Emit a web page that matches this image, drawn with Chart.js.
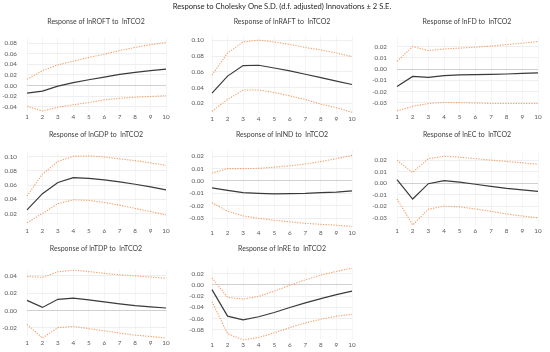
<!DOCTYPE html>
<html>
<head>
<meta charset="utf-8">
<script src="https://cdn.jsdelivr.net/npm/chart.js@4.4.1/dist/chart.umd.min.js"></script>
<style>
  body { margin: 0; background: #fff; }
  #wrap { position: relative; width: 550px; height: 352px; overflow: hidden; }
  canvas { position: absolute; }
</style>
</head>
<body>
<div id="wrap"><canvas id="titles" width="550" height="352" style="left:0;top:0;width:550px;height:352px"></canvas></div>
<script>
// periods of the impulse response
const periods = ['1', '2', '3', '4', '5', '6', '7', '8', '9', '10'];

// lnROFT
const roftResp = [-0.0144, -0.0106, -0.0011, 0.0056, 0.011, 0.016, 0.021, 0.025, 0.028, 0.031];
const roftUp = [0.0117, 0.028, 0.039, 0.046, 0.053, 0.059, 0.066, 0.072, 0.077, 0.081];
const roftLo = [-0.039, -0.048, -0.041, -0.036, -0.032, -0.027, -0.024, -0.022, -0.0206, -0.019];
// lnRAFT
const raftResp = [0.0331, 0.0547, 0.068, 0.0685, 0.065, 0.0614, 0.057, 0.0528, 0.0484, 0.044];
const raftUp = [0.056, 0.084, 0.098, 0.1004, 0.098, 0.095, 0.091, 0.088, 0.084, 0.0795];
const raftLo = [0.010, 0.025, 0.037, 0.037, 0.034, 0.0295, 0.025, 0.019, 0.0146, 0.0087];
// lnFD
const fdResp = [-0.0153, -0.0064, -0.0072, -0.0057, -0.0051, -0.0049, -0.0046, -0.0043, -0.0038, -0.0033];
const fdUp = [0.0069, 0.020, 0.0166, 0.0179, 0.0187, 0.0195, 0.0205, 0.0218, 0.0231, 0.0245];
const fdLo = [-0.037, -0.033, -0.0305, -0.0295, -0.0297, -0.030, -0.0305, -0.0305, -0.0305, -0.0305];
// lnGDP
const gdpResp = [0.0254, 0.048, 0.0637, 0.0703, 0.0695, 0.0674, 0.0645, 0.0612, 0.0575, 0.0534];
const gdpUp = [0.0447, 0.0753, 0.093, 0.1004, 0.1008, 0.0992, 0.0967, 0.0942, 0.091, 0.0876];
const gdpLo = [0.0072, 0.0204, 0.034, 0.0394, 0.0386, 0.0357, 0.032, 0.0274, 0.0229, 0.0184];
// lnIND
const indResp = [-0.0056, -0.0076, -0.0094, -0.0099, -0.0103, -0.0101, -0.0099, -0.0094, -0.0089, -0.0079];
const indUp = [0.0063, 0.0099, 0.0099, 0.0101, 0.0111, 0.0121, 0.0136, 0.0156, 0.0178, 0.0205];
const indLo = [-0.0173, -0.0243, -0.028, -0.030, -0.0315, -0.0328, -0.034, -0.0348, -0.0355, -0.0365];
// lnEC
const ecResp = [0.0032, -0.0138, -0.0004, 0.0022, 0.0009, -0.0009, -0.0027, -0.0045, -0.0058, -0.0071];
const ecUp = [0.020, 0.0094, 0.0215, 0.0236, 0.0228, 0.0215, 0.0202, 0.019, 0.0179, 0.0166];
const ecLo = [-0.0138, -0.0365, -0.0228, -0.020, -0.0207, -0.0225, -0.0246, -0.0269, -0.0287, -0.0303];
// lnTDP
const tdpResp = [0.0117, 0.0036, 0.013, 0.0144, 0.0124, 0.010, 0.0077, 0.0056, 0.0043, 0.0029];
const tdpUp = [0.0393, 0.0383, 0.0447, 0.0467, 0.045, 0.043, 0.0414, 0.040, 0.0387, 0.0373];
const tdpLo = [-0.016, -0.0318, -0.0197, -0.0183, -0.021, -0.0234, -0.026, -0.0284, -0.030, -0.0318];
// lnRE
const reResp = [-0.0086, -0.0558, -0.0624, -0.0569, -0.0492, -0.0404, -0.0322, -0.0245, -0.0174, -0.0113];
const reUp = [0.0123, -0.0222, -0.0255, -0.0206, -0.0113, -0.0009, 0.009, 0.0173, 0.0239, 0.0299];
const reLo = [-0.030, -0.0871, -0.098, -0.0937, -0.0855, -0.0761, -0.0679, -0.0613, -0.0558, -0.0525];

// y tick labels
const ticksRoft = [0.08, 0.06, 0.04, 0.02, 0, -0.02, -0.04];
const ticksHigh = [0.10, 0.08, 0.06, 0.04, 0.02];
const ticksSmall = [0.02, 0.01, 0, -0.01, -0.02, -0.03];
const ticksTdp = [0.04, 0.02, 0, -0.02];
const ticksRe = [0.02, 0, -0.02, -0.04, -0.06, -0.08];

const mainTitle = 'Response to Cholesky One S.D. (d.f. adjusted) Innovations \u00b1 2 S.E.';

// layout of the grid (pixels)
const cols = [
    { left: 0, width: 180, first: 27, last: 166, gap: 10, tx: 96 },
    { left: 180, width: 185, first: 212, last: 352, gap: 8, tx: 282 },
    { left: 365, width: 185, first: 397, last: 538, gap: 10, tx: 467 }
];
const rows = [
    { top: 30, bottom: 113, ty: 22 },
    { top: 144, bottom: 227, ty: 135 },
    { top: 262, bottom: 339, ty: 249 }
];

const panels = [
    { name: 'lnROFT', col: 0, row: 0, resp: roftResp, up: roftUp, lo: roftLo, ticks: ticksRoft, fit: [36, 108] },
    { name: 'lnRAFT', col: 1, row: 0, resp: raftResp, up: raftUp, lo: raftLo, ticks: ticksHigh, fit: [35, 102.7] },
    { name: 'lnFD', col: 2, row: 0, resp: fdResp, up: fdUp, lo: fdLo, ticks: ticksSmall, fit: [40, 103.7] },
    { name: 'lnGDP', col: 0, row: 1, resp: gdpResp, up: gdpUp, lo: gdpLo, ticks: ticksHigh, fit: [149.3, 214] },
    { name: 'lnIND', col: 1, row: 1, resp: indResp, up: indUp, lo: indLo, ticks: ticksSmall, fit: [150.7, 217.7] },
    { name: 'lnEC', col: 2, row: 1, resp: ecResp, up: ecUp, lo: ecLo, ticks: ticksSmall, fit: [153.7, 218.3] },
    { name: 'lnTDP', col: 0, row: 2, resp: tdpResp, up: tdpUp, lo: tdpLo, ticks: ticksTdp, fit: [269, 328.3] },
    { name: 'lnRE', col: 1, row: 2, resp: reResp, up: reUp, lo: reLo, ticks: ticksRe, fit: [268.3, 329] }
];

const wrap = document.getElementById('wrap');
const tctx = document.getElementById('titles').getContext('2d');

// centred text line at (x, y), drawn on the background canvas
function addText(txt, x, y, size, color) {
    tctx.font = size + 'px Lato, "Liberation Sans", sans-serif';
    tctx.fillStyle = color || '#404040';
    tctx.textAlign = 'center';
    tctx.textBaseline = 'middle';
    tctx.fillText(txt, x, y);
}

addText(mainTitle, 282, 7, 7.6, '#262626');

const PAD_TOP = 6;
const XAXIS_H = 12;

function makePanel(p) {
    const c = cols[p.col];
    const r = rows[p.row];
    const cv = document.createElement('canvas');
    const h = PAD_TOP + (r.bottom - r.top) + XAXIS_H;
    cv.width = c.width;
    cv.height = h;
    cv.style.left = c.left + 'px';
    cv.style.top = (r.top - PAD_TOP) + 'px';
    cv.style.width = c.width + 'px';
    cv.style.height = h + 'px';
    wrap.appendChild(cv);

    addText('Response of ' + p.name + ' to  lnTCO2', c.tx, r.ty, 7);

    // axis range so the first and last tick land where they are in the picture
    const vTop = p.ticks[0];
    const vBot = p.ticks[p.ticks.length - 1];
    const perPx = (vTop - vBot) / (p.fit[1] - p.fit[0]);
    const yMax = vTop + (p.fit[0] - r.top) * perPx;
    const yMin = vBot - (r.bottom - p.fit[1]) * perPx;

    const band = {
        borderColor: '#F1A26C',
        borderWidth: 1.1,
        borderDash: [1.3, 1.3],
        pointRadius: 0,
        tension: 0,
        fill: false
    };

    new Chart(cv, {
        type: 'line',
        data: {
            labels: periods,
            datasets: [
                Object.assign({ data: p.up }, band),
                Object.assign({ data: p.lo }, band),
                { data: p.resp, borderColor: '#3a3a3a', borderWidth: 1.2, pointRadius: 0, tension: 0, fill: false }
            ]
        },
        options: {
            responsive: false,
            animation: false,
            clip: false,
            layout: { padding: { top: PAD_TOP, bottom: 0, left: 0, right: c.left + c.width - c.last } },
            plugins: { legend: { display: false }, tooltip: { enabled: false } },
            scales: {
                x: {
                    offset: false,
                    afterFit: s => { s.height = XAXIS_H; },
                    grid: { color: '#f5f5f5', drawTicks: false },
                    border: { display: false },
                    ticks: { padding: 2, maxRotation: 0, autoSkip: false, color: '#595959', font: { family: 'Lato', size: 6.3 } }
                },
                y: {
                    min: yMin,
                    max: yMax,
                    afterFit: s => { s.width = c.first - c.left; },
                    afterBuildTicks: s => { s.ticks = p.ticks.map(v => ({ value: v })); },
                    grid: {
                        drawTicks: false,
                        color: ctx => (ctx.tick && Math.abs(ctx.tick.value) < 1e-9) ? '#d0d0d0' : '#eeeeee'
                    },
                    border: { display: false },
                    ticks: { padding: c.gap, color: '#595959', font: { family: 'Lato', size: 6.3 }, callback: v => v.toFixed(2) }
                }
            }
        }
    });
}

panels.forEach(makePanel);
</script>
</body>
</html>
